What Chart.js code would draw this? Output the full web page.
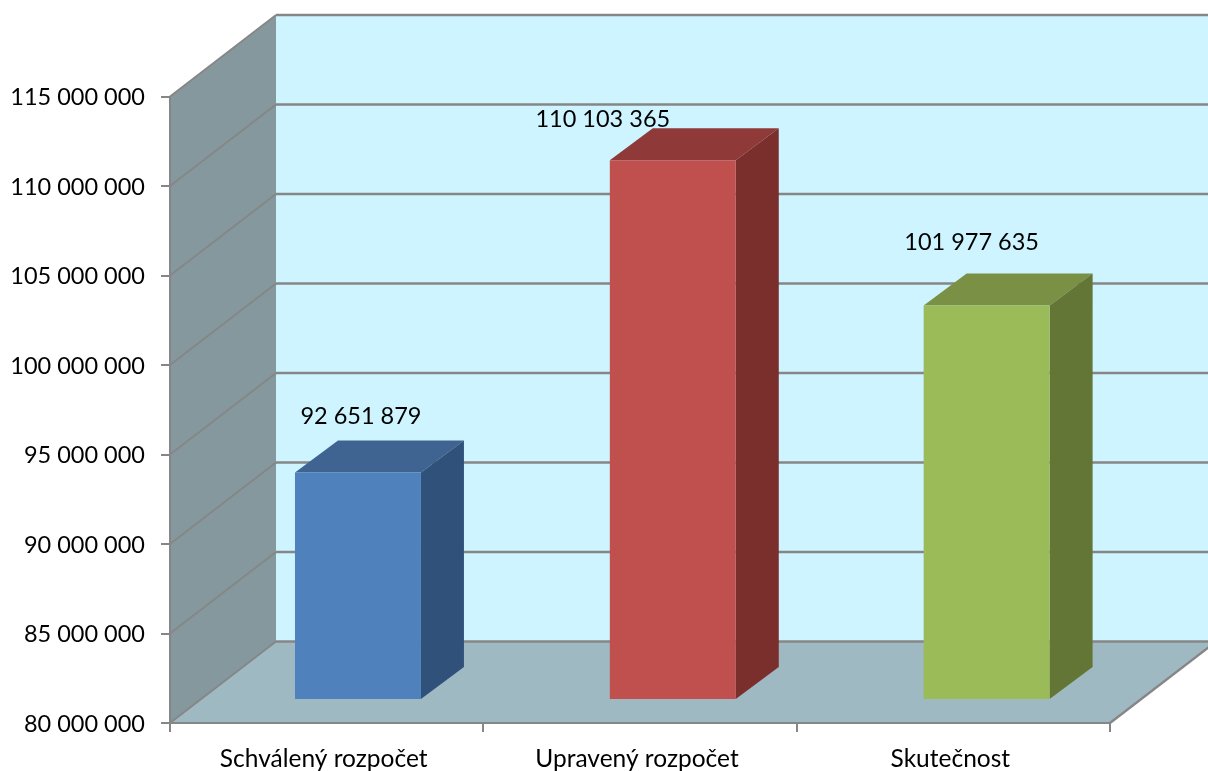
<!DOCTYPE html>
<html>
<head>
<meta charset="utf-8">
<script src="https://cdn.jsdelivr.net/npm/chart.js@4"></script>
<style>
  html, body { margin: 0; padding: 0; background: #fff; }
  canvas { display: block; }
</style>
</head>
<body>
<canvas id="budgetChart" width="1208" height="771"></canvas>
<script>
const categories = ['Schválený rozpočet', 'Upravený rozpočet', 'Skutečnost'];
const values = [92651879, 110103365, 101977635];
const frontColors = ['#4F81BD', '#C0504D', '#9BBB59'];
const topColors = ['#3F6491', '#8F3A38', '#7A9044'];
const sideColors = ['#30527A', '#7B2F2D', '#647636'];
const labelShifts = [[3, -56], [-70, -41], [-15, -63]];
const barNudges = [0, 1.5, 2];

const FONT = 'Lato, "Open Sans", sans-serif';
const GRID = '#868686';
// depth of the fake 3D box
const WALL_DX = 106, WALL_DY = 81.5;
const BAR_SHIFT_X = 31.3, BAR_SHIFT_Y = -24;
const BAR_DX = 43, BAR_DY = 32;

function fmt(v) {
  return String(v).replace(/\B(?=(\d{3})+$)/g, ' ');
}

function poly(ctx, pts, fill) {
  ctx.beginPath();
  pts.forEach((p, i) => i ? ctx.lineTo(p[0], p[1]) : ctx.moveTo(p[0], p[1]));
  ctx.closePath();
  ctx.fillStyle = fill;
  ctx.fill();
}

function line(ctx, x1, y1, x2, y2, w) {
  ctx.beginPath();
  ctx.moveTo(x1, y1);
  ctx.lineTo(x2, y2);
  ctx.lineWidth = w;
  ctx.strokeStyle = GRID;
  ctx.stroke();
}

const box3d = {
  id: 'box3d',
  afterDatasetsUpdate(chart) {
    chart.getDatasetMeta(0).data.forEach((bar, i) => { bar.x += barNudges[i]; });
  },
  beforeDraw(chart) {
    const { ctx, chartArea: a, scales: { y } } = chart;
    ctx.save();
    // back wall, floor, left wall
    poly(ctx, [[a.left + WALL_DX, a.top - WALL_DY], [a.right + WALL_DX, a.top - WALL_DY],
      [a.right + WALL_DX, a.bottom - WALL_DY], [a.left + WALL_DX, a.bottom - WALL_DY]], '#CDF4FF');
    poly(ctx, [[a.left, a.bottom], [a.right, a.bottom],
      [a.right + WALL_DX, a.bottom - WALL_DY], [a.left + WALL_DX, a.bottom - WALL_DY]], '#9FB9C3');
    poly(ctx, [[a.left, a.bottom], [a.left, a.top],
      [a.left + WALL_DX, a.top - WALL_DY], [a.left + WALL_DX, a.bottom - WALL_DY]], '#84989E');
    // grid lines run along the left wall and then across the back
    y.ticks.forEach(t => {
      const py = y.getPixelForValue(t.value);
      line(ctx, a.left, py, a.left + WALL_DX, py - WALL_DY, 1.8);
      line(ctx, a.left + WALL_DX, py - WALL_DY, a.right + WALL_DX, py - WALL_DY, 2.4);
    });
    line(ctx, a.right, a.bottom, a.right + WALL_DX, a.bottom - WALL_DY, 2.4);
    ctx.restore();
  },
  beforeDatasetDraw(chart) {
    const { ctx, chartArea: a } = chart;
    ctx.save();
    ctx.translate(BAR_SHIFT_X, BAR_SHIFT_Y);
    chart.getDatasetMeta(0).data.forEach((bar, i) => {
      const l = bar.x - bar.width / 2, r = bar.x + bar.width / 2;
      poly(ctx, [[l, bar.y], [r, bar.y], [r + BAR_DX, bar.y - BAR_DY], [l + BAR_DX, bar.y - BAR_DY]], topColors[i]);
      poly(ctx, [[r, bar.y], [r + BAR_DX, bar.y - BAR_DY], [r + BAR_DX, a.bottom - BAR_DY], [r, a.bottom]], sideColors[i]);
    });
  },
  afterDatasetDraw(chart) {
    chart.ctx.restore();
  },
  afterDatasetsDraw(chart) {
    const { ctx } = chart;
    ctx.save();
    ctx.font = '23.5px ' + FONT;
    ctx.fillStyle = '#000';
    ctx.textAlign = 'center';
    ctx.textBaseline = 'middle';
    chart.getDatasetMeta(0).data.forEach((bar, i) => {
      ctx.fillText(fmt(values[i]), bar.x + BAR_SHIFT_X + labelShifts[i][0], bar.y + BAR_SHIFT_Y + labelShifts[i][1]);
    });
    ctx.restore();
  }
};

new Chart(document.getElementById('budgetChart'), {
  type: 'bar',
  data: {
    labels: categories,
    datasets: [{
      data: values,
      backgroundColor: frontColors,
      borderWidth: 0,
      barPercentage: 0.402,
      categoryPercentage: 1
    }]
  },
  plugins: [box3d],
  options: {
    responsive: false,
    animation: false,
    layout: { padding: { top: 96.5, right: 98, left: 0, bottom: 0 } },
    plugins: { legend: { display: false }, tooltip: { enabled: false } },
    scales: {
      x: {
        afterFit(scale) { scale.height = 48; },
        grid: { drawOnChartArea: false, color: GRID, lineWidth: 2, tickLength: 9 },
        border: { color: GRID, width: 2 },
        ticks: { color: '#000', font: { family: FONT, size: 24.5 }, padding: 12, labelOffset: -3, maxRotation: 0 }
      },
      y: {
        min: 80000000,
        max: 115000000,
        afterFit(scale) { scale.width = 170; },
        grid: { drawOnChartArea: false, color: GRID, lineWidth: 2, tickLength: 9 },
        border: { color: GRID, width: 2 },
        ticks: {
          stepSize: 5000000,
          color: '#000',
          font: { family: FONT, size: 23.5 },
          padding: 16,
          labelOffset: 1,
          callback: v => fmt(v)
        }
      }
    }
  }
});
</script>
</body>
</html>
